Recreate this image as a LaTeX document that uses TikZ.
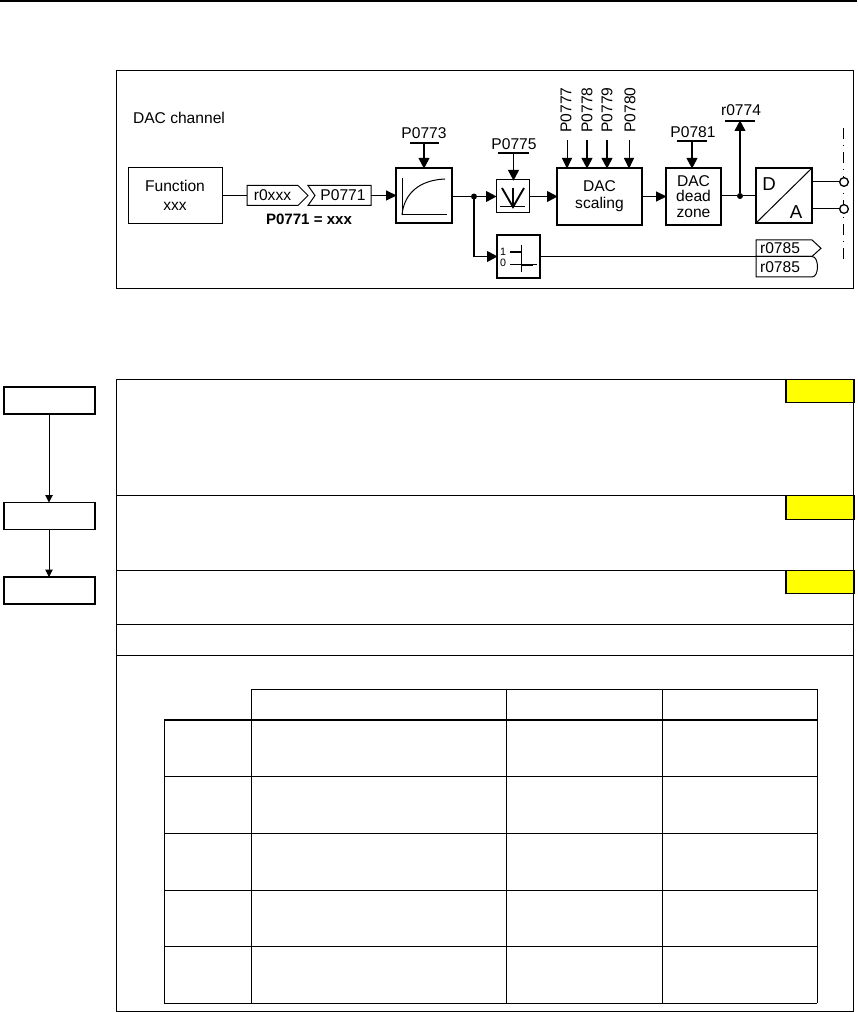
\documentclass[tikz,border=0pt]{standalone}
\usepackage{fontspec}
\setmainfont{Liberation Sans}
\usetikzlibrary{arrows.meta}
\definecolor{flagyellow}{RGB}{255,255,0}

\begin{document}
\begin{tikzpicture}[
  x=0.75pt, y=-0.75pt,
  txt/.style={font=\fontsize{11.7}{13.4}\selectfont, inner sep=0pt, outer sep=0pt, align=center},
  tight/.style={font=\fontsize{11.7}{11.8}\selectfont},
  block/.style 2 args={txt, draw=black, line width=1pt, minimum width=#1*0.75pt, minimum height=#2*0.75pt},
  thinblock/.style 2 args={block={#1}{#2}, line width=0.75pt},
  tagtxt/.style 2 args={txt, minimum width=#1*0.75pt, minimum height=#2*0.75pt},
  stepbox/.style={draw=black, line width=1pt, inner sep=0pt, outer sep=0pt, minimum width=68.25pt, minimum height=20.25pt},
  flagbox/.style={draw=black, fill=flagyellow, line width=0.9pt, inner sep=0pt, outer sep=0pt, minimum width=51pt, minimum height=17.5pt},
  dotnode/.style={circle, fill=black, inner sep=0pt, outer sep=0pt, minimum size=4.5pt},
  termnode/.style={circle, draw=black, fill=white, line width=1pt, inner sep=0pt, outer sep=0pt, minimum size=6.5pt},
  wire/.style={line width=0.75pt},
  boldwire/.style={line width=1.4pt},
  sigarr/.style={line width=1.4pt, -{Triangle[length=8pt, width=8pt]}, shorten >=-0.5pt},
  thinarr/.style={line width=0.75pt, -{Triangle[length=8pt, width=7.5pt]}, shorten >=-0.5pt},
  flowarr/.style={line width=0.75pt, -{Triangle[length=5.5pt, width=5.5pt]}},
  rule/.style={line width=0.75pt},
  parbar/.style={line width=1.1pt},
  barnode/.style={inner sep=0pt, outer sep=0pt, minimum width=#1*0.75pt, minimum height=0pt}
]
\useasboundingbox (0,0) rectangle (857,1012);
\draw[line width=1.5pt] (0,1) -- (857,1);

% DAC channel frame
\draw[rule] (116.5,71) rectangle (853.5,288);
\node[txt, anchor=west] (title) at (133,118) {DAC channel};

\node[thinblock={94}{56}] (func) at (175,195.5) {Function\\[1pt]xxx};
\node[tagtxt={51}{20}] (rtag) at (272.5,195.5) {r0xxx};
\node[tagtxt={56}{20}] (ptag) at (343,195.5) {P0771};
\draw[rule] (rtag.north west) -- (rtag.north east) -- ([xshift=7.5pt]rtag.east) -- (rtag.south east) -- (rtag.south west) -- cycle;
\draw[rule] (ptag.north east) -- (ptag.south east) -- ([xshift=-5.25pt]ptag.south west) -- (ptag.west) -- ([xshift=-5.25pt]ptag.north west) -- cycle;
\node[txt, font=\fontsize{11.3}{13}\selectfont\bfseries] (peq) at (309,219) {P0771 = xxx};

% ramp block
\node[block={56}{55}] (ramp) at (424,195.5) {};
\draw[wire] (402,178) -- (402,215) -- (447,215);
\draw[wire] (402,215) .. controls (404,193) and (420,180) .. (445,179);
\node[txt] (p773) at (424,133) {P0773};
\node[barnode=29] (p773bar) at (424,143) {};
\draw[parbar] (p773bar.west) -- (p773bar.east);

% dead band element
\node[thinblock={33}{33}] (band) at (512.5,196.5) {};
\draw[wire] (500,207) -- (525,207);
\draw[boldwire] (502,188) -- (513,207) -- (524,188);
\draw[boldwire] (513,188) -- (513,207);
\node[txt] (p775) at (514,144) {P0775};
\node[barnode=31] (p775bar) at (513.5,153) {};
\draw[parbar] (p775bar.west) -- (p775bar.east);

% scaling and dead zone
\node[block={85}{57}, tight] (scale) at (599.5,196.5) {DAC\\[1pt]scaling};
\node[block={55}{57}, tight] (zone) at (693.5,196.5) {DAC\\dead\\zone};
\node[block={56}{55}] (conv) at (784,195.5) {};
\draw[wire] (conv.south west) -- (conv.north east);
\node[txt, font=\fontsize{14}{16}\selectfont] (letd) at (769,184) {D};
\node[txt, font=\fontsize{14}{16}\selectfont] (leta) at (796,212) {A};

\node[txt, rotate=90] (p777) at (566,110) {P0777};
\node[txt, rotate=90] (p778) at (587,110) {P0778};
\node[txt, rotate=90] (p779) at (607,110) {P0779};
\node[txt, rotate=90] (p780) at (630,110) {P0780};
\coordinate (in777) at (567,140);
\coordinate (in778) at (587,140);
\coordinate (in779) at (607,140);
\coordinate (in780) at (629,140);

\node[txt] (p781) at (693,132) {P0781};
\node[barnode=30] (p781bar) at (692,141) {};
\draw[parbar] (p781bar.west) -- (p781bar.east);
\node[txt] (r774) at (741,110) {r0774};
\node[barnode=30] (r774bar) at (740,121) {};
\draw[parbar] (r774bar.west) -- (r774bar.east);

% threshold element
\node[block={43}{43}] (switch) at (518.5,256.5) {};
\node[txt, font=\fontsize{8}{9}\selectfont] (one) at (503,252) {1};
\node[txt, font=\fontsize{8}{9}\selectfont] (zero) at (503,263) {0};
\draw[boldwire] (510,252) -- (521,252);
\draw[wire] (521,245) -- (521,272);
\draw[wire] (510,265) -- (521,265);
\draw[boldwire] (521,265) -- (533,265);
\draw[wire] (533,265) -- (537,265);

\node[tagtxt={48}{16.5}] (rsig) at (780,248.25) {r0785};
\node[tagtxt={48}{20.5}] (rbit) at (780,266.75) {r0785};
\draw[rule] (rsig.south west) -- (rsig.north west) -- ([xshift=6pt]rsig.north east) -- ([xshift=12.75pt]rsig.east) -- ([xshift=6pt]rsig.south east) -- cycle;
\draw[rule] (rbit.north west) -- ([xshift=6pt]rbit.north east) .. controls ([xshift=11.5pt]rbit.north east) and ([xshift=11.5pt]rbit.south east) .. ([xshift=6pt]rbit.south east) -- (rbit.south west) -- cycle;

% dash dot line at the outputs
\coordinate (sepa) at (843,128);
\coordinate (sepb) at (843,260);
\draw[line width=0.75pt, dash pattern=on 8.25pt off 4.5pt on 0.75pt off 4.5pt] (sepa) -- (sepb);

% junctions and terminals
\node[dotnode] (jramp) at (474,196.5) {};
\node[dotnode] (jzone) at (740,196) {};
\node[termnode] (outa) at (844,182) {};
\node[termnode] (outb) at (844,209) {};

\draw[wire] (func.east) -- (rtag.west);
\draw[thinarr] (ptag.east) -- (ramp.west);
\draw[sigarr] (p773bar) -- (ramp.north);
\draw[boldwire] (ramp.east |- jramp) -- (jramp);
\draw[sigarr] (jramp) -- (band.west);
\draw[sigarr] (jramp) |- (switch.west);
\draw[sigarr] (p775bar) -- (p775bar |- band.north);
\draw[sigarr] (band.east) -- (scale.west);
\draw[thinarr] (in777) -- (in777 |- scale.north);
\draw[sigarr] (in778) -- (in778 |- scale.north);
\draw[sigarr] (in779) -- (in779 |- scale.north);
\draw[thinarr] (in780) -- (in780 |- scale.north);
\draw[thinarr] (scale.east) -- (zone.west);
\draw[sigarr] (p781bar) -- (p781bar |- zone.north);
\draw[wire] (zone.east |- jzone) -- (jzone) -- (conv.west |- jzone);
\draw[sigarr] (jzone) -- (r774bar);
\draw[wire] (conv.east |- outa) -- (outa);
\draw[wire] (conv.east |- outb) -- (outb);
\draw[wire] (switch.east) -- (rsig.south west);

% sequence on the left
\node[stepbox] (stepa) at (49.5,400.5) {};
\node[stepbox] (stepb) at (49.5,516) {};
\node[stepbox] (stepc) at (49.5,590.5) {};
\draw[flowarr] ([xshift=-0.375pt]stepa.south) -- ([xshift=-0.375pt]stepb.north);
\draw[flowarr] ([xshift=-0.375pt]stepb.south) -- ([xshift=-0.375pt]stepc.north);

% description panels
\draw[rule] (116.5,379) rectangle (853.5,1011);
\draw[rule] (116.5,495) -- (853.5,495);
\draw[rule] (116.5,570.5) -- (853.5,570.5);
\draw[rule] (116.5,624) -- (853.5,624);
\draw[rule] (116.5,655) -- (853.5,655);
\node[flagbox] (flaga) at (820,391) {};
\node[flagbox] (flagb) at (820,507.5) {};
\node[flagbox] (flagc) at (820,582) {};

% value table
\draw[rule] (251,689) -- (817,689);
\draw[line width=1.3pt] (164,720) -- (817,720);
\draw[rule] (164,776) -- (817,776);
\draw[rule] (164,833) -- (817,833);
\draw[rule] (164,890) -- (817,890);
\draw[rule] (164,946) -- (817,946);
\draw[rule] (164,1003) -- (817,1003);
\draw[rule] (164,720) -- (164,1003);
\draw[rule] (251,689) -- (251,1003);
\draw[rule] (506.5,689) -- (506.5,1003);
\draw[rule] (662,689) -- (662,1003);
\draw[rule] (817,689) -- (817,1003);
\end{tikzpicture}
\end{document}
